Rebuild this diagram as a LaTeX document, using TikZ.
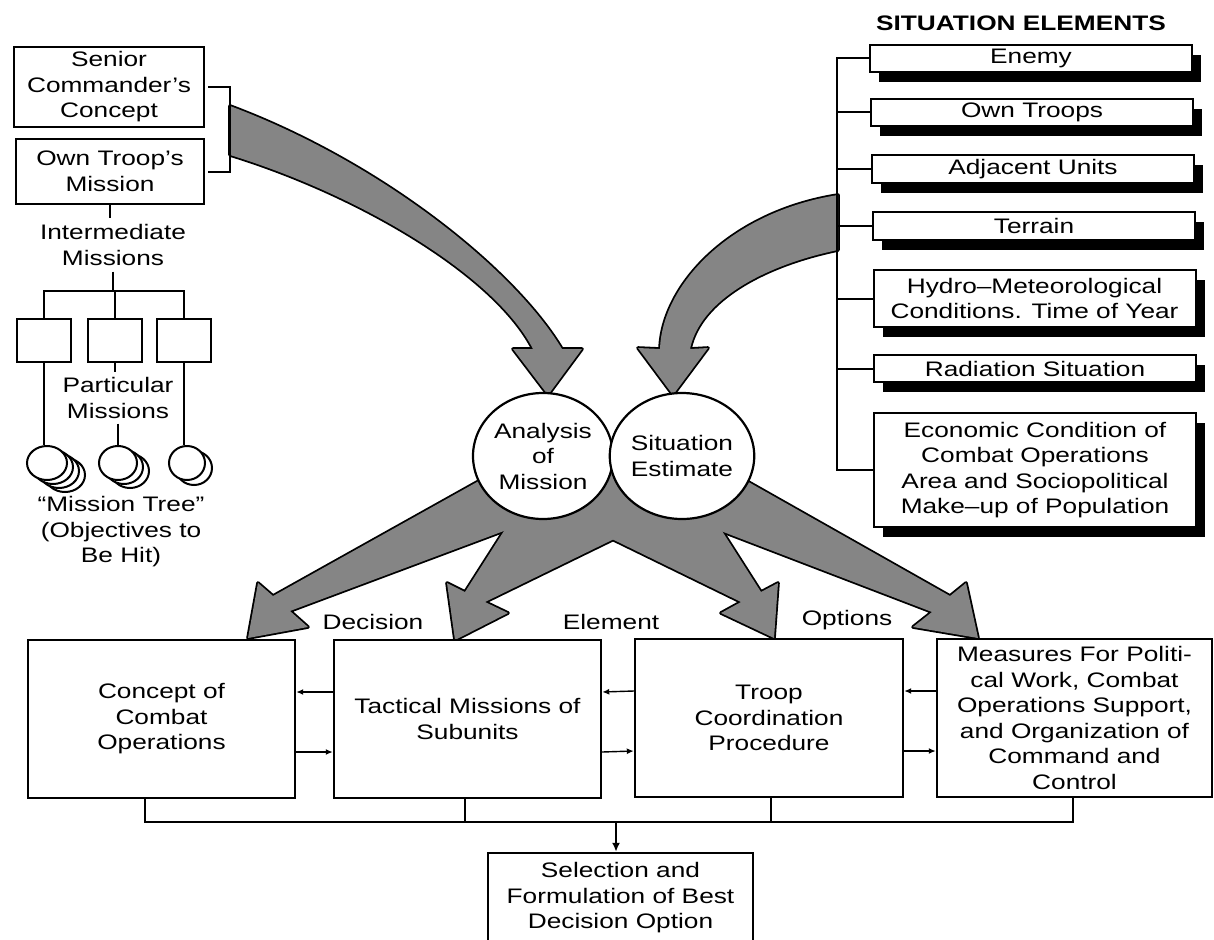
\documentclass[tikz,border=0pt]{standalone}
\usepackage{fontspec}
\setmainfont{Liberation Sans}[FakeStretch=1.25]
\usetikzlibrary{arrows.meta,shapes.geometric,shadows}
\pgfdeclarelayer{back}
\pgfsetlayers{back,main}

% broad shaded arrows (outline pass, then fill pass so overlaps merge)
\newcommand\fatTopLeft{(230,106) .. controls (380,162) and (514,269) .. (562,349) -- (582,349) -- (548,395) -- (513,349) -- (533,349) .. controls (495,275) and (360,195) .. (230,155) -- cycle}
\newcommand\fatTopRight{(838,195) .. controls (730,212) and (662,285) .. (660,349) -- (638,348) -- (673,395) -- (708,348) -- (690,349) .. controls (700,300) and (765,265) .. (838,250) -- cycle}
\newcommand\fatA{(520,458) -- (273,596) -- (258,583) -- (248,638) -- (308,627) -- (290,611) -- (560,510) -- cycle}
\newcommand\fatB{(548,462) -- (465,592) -- (447,583) -- (455,640) -- (508,613) -- (485,602) -- (690,502) -- (613,458) -- cycle}
\newcommand\fatC{(678,462) -- (761,592) -- (778,583) -- (774,638) -- (721,613) -- (741,602) -- (536,502) -- (613,458) -- cycle}
\newcommand\fatD{(706,458) -- (950,596) -- (966,583) -- (978,638) -- (913,627) -- (932,612) -- (666,510) -- cycle}

\begin{document}
\begin{tikzpicture}[x=1pt,y=-1pt,
  every node/.style={font=\fontsize{21}{25.5}\selectfont, inner sep=0pt, align=center},
  frame/.style={draw, line width=2.4pt, fill=white},
  sitbox/.style={draw, line width=2pt, fill=white, minimum width=322pt,
    drop shadow={shadow xshift=9pt, shadow yshift=-10pt, opacity=1, fill=black}},
  bigbox/.style={frame, minimum width=267pt, minimum height=158pt},
  ring/.style={ellipse, draw, line width=2.2pt, fill=white},
  link/.style={line width=2pt},
  thin link/.style={line width=1.4pt, -{Latex[length=7pt,width=6pt]}},
  fatline/.style={draw=black, line width=3.6pt, line join=round},
  fatfill/.style={fill=black!48},
]
\useasboundingbox (0,0) rectangle (1214,939);
\clip (0,0) rectangle (1214,939);

% ---------- left column: missions ----------
\node[frame, minimum width=190pt, minimum height=80pt] (sc) at (109,87) {Senior\\Commander’s\\Concept};
\node[frame, minimum width=188pt, minimum height=65pt] (ot) at (110,171.5) {Own Troop’s\\Mission};
\draw[link] ([xshift=3pt]sc.east) -- ++(22,0) |- ([xshift=3pt]ot.east);

\node[inner sep=6pt] (im) at (113,245) {Intermediate\\Missions};
\draw[link] (ot.south) -- (ot.south |- im.north);
\coordinate (bar) at (113,291);
\draw[link] (im.south) -- (bar);

\node[frame, minimum width=54pt, minimum height=43pt] (b1) at (44,340.5) {};
\node[frame, minimum width=54pt, minimum height=43pt] (b2) at (115,340.5) {};
\node[frame, minimum width=54pt, minimum height=43pt] (b3) at (184,340.5) {};
\draw[link] (b1.north) |- (bar) -| (b3.north);
\draw[link] (b2.north) -- (b2.north |- bar);

\node[inner sep=5pt] (pm) at (118,398) {Particular\\Missions};

% stacked objective rings
\foreach \dx/\dy in {18/12,12/8,6/4}
  \draw[line width=2pt, fill=white] (47+\dx,463+\dy) ellipse [x radius=20, y radius=17];
\node[ring, line width=2pt, minimum width=40pt, minimum height=34pt] (c1) at (47,463) {};
\foreach \dx/\dy in {12/8,6/4}
  \draw[line width=2pt, fill=white] (118+\dx,463+\dy) ellipse [x radius=19, y radius=17];
\node[ring, line width=2pt, minimum width=38pt, minimum height=34pt] (c2) at (118,463) {};
\draw[line width=2pt, fill=white] (194,468) ellipse [x radius=18, y radius=17];
\node[ring, line width=2pt, minimum width=36pt, minimum height=34pt] (c3) at (187,463) {};

\draw[link] (b1.south) -- (b1.south |- c1.north);
\draw[link] (b2.south) -- (pm.north -| b2.south);
\draw[link] (pm.south -| c2.north) -- (c2.north);
\draw[link] (b3.south) -- (b3.south |- c3.north);

\node (mt) at (121,532) {“Mission Tree”\\(Objectives to\\Be Hit)};

% ---------- right column: situation elements ----------
\node[font=\bfseries\fontsize{21}{25.5}\selectfont] (st) at (1021,23) {SITUATION ELEMENTS};
\node[sitbox, minimum height=27pt] (en) at (1031,58.5) {Enemy};
\node[sitbox, minimum height=27pt] (ow) at (1032,112.5) {Own Troops};
\node[sitbox, minimum height=28pt] (ad) at (1033,169) {Adjacent Units};
\node[sitbox, minimum height=28pt] (te) at (1034,226) {Terrain};
\node[sitbox, minimum height=57pt] (hy) at (1034.5,298.5) {Hydro–Meteorological\\Conditions. Time of Year};
\node[sitbox, minimum height=27pt] (ra) at (1035,368.5) {Radiation Situation};
\node[sitbox, minimum height=114pt] (ec) at (1035,470) {Economic Condition of\\Combat Operations\\Area and Sociopolitical\\Make–up of Population};

\coordinate (spine) at (837,0);
\draw[link] (en.west) -- (en.west -| spine) -- (ec.west -| spine) -- (ec.west);
\foreach \b in {ow,ad,te,hy,ra}
  \draw[link] (\b.west) -- (\b.west -| spine);

% ---------- centre: analysis and estimate ----------
\node[ring, minimum width=140pt, minimum height=126pt] (am) at (543,456) {Analysis\\of\\Mission};
\node[ring, minimum width=140pt, minimum height=126pt] (se) at (682,456) {Situation\\Estimate};

% ---------- decision elements ----------
\node[bigbox] (cc) at (161.5,719) {Concept of\\Combat\\Operations};
\node[bigbox] (tm) at (467.5,719) {Tactical Missions of\\Subunits};
\node[bigbox, minimum width=268pt] (tc) at (769,718) {Troop\\Coordination\\Procedure};
\node[bigbox, minimum width=275pt] (mp) at (1074.5,718) {Measures For Politi-\\cal Work, Combat\\Operations Support,\\and Organization of\\Command and\\Control};

\node (l1) at (373,622) {Decision};
\node (l2) at (611,622) {Element};
\node (l3) at (847,620) {Options};

\foreach \l/\r in {cc/tm,tm/tc,tc/mp}{
  \draw[thin link] ([yshift=27pt]\r.west) -- ([yshift=27pt]\l.east);
  \draw[thin link] ([yshift=-33pt]\l.east) -- ([yshift=-33pt]\r.west);
}

\node[frame, minimum width=265pt, minimum height=90pt] (sel) at (620.5,898) {Selection and\\Formulation of Best\\Decision Option};

\coordinate (bus) at (616,822);
\coordinate (ccb) at ([xshift=-17pt]cc.south);
\coordinate (tmb) at ([xshift=-3pt]tm.south);
\coordinate (tcb) at ([xshift=2pt]tc.south);
\coordinate (mpb) at ([xshift=-2pt]mp.south);
\draw[link] (ccb) |- (bus) -| (mpb);
\draw[link] (tmb) -- (tmb |- bus);
\draw[link] (tcb) -- (tcb |- bus);
\draw[link, -{Latex[length=9pt,width=8pt]}] (bus) -- (sel.north -| bus);

% ---------- shaded flow arrows ----------
\begin{pgfonlayer}{back}
  \draw[fatline] \fatTopLeft;
  \draw[fatline] \fatTopRight;
  \draw[fatline] \fatA;
  \draw[fatline] \fatB;
  \draw[fatline] \fatC;
  \draw[fatline] \fatD;
  \fill[fatfill] \fatTopLeft;
  \fill[fatfill] \fatTopRight;
  \fill[fatfill] \fatA;
  \fill[fatfill] \fatB;
  \fill[fatfill] \fatC;
  \fill[fatfill] \fatD;
\end{pgfonlayer}
\end{tikzpicture}
\end{document}
